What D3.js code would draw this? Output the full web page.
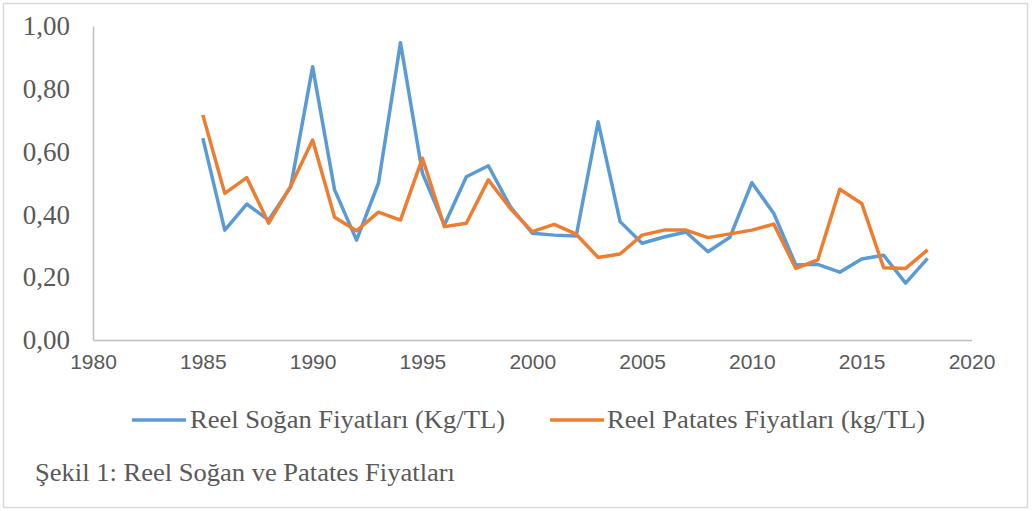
<!DOCTYPE html>
<html>
<head>
<meta charset="utf-8">
<script src="https://cdn.jsdelivr.net/npm/d3@7"></script>
<style>
  body { margin: 0; background: #fff; }
</style>
</head>
<body>
<svg id="chart" width="1033" height="511"></svg>
<script>
// yillar ve seriler
var years = [1985, 1986, 1987, 1988, 1989, 1990, 1991, 1992, 1993, 1994, 1995, 1996, 1997, 1998, 1999, 2000, 2001,
  2002, 2003, 2004, 2005, 2006, 2007, 2008, 2009, 2010, 2011, 2012, 2013, 2014, 2015, 2016, 2017, 2018];
var sogan = [0.643, 0.350, 0.433, 0.382, 0.487, 0.870, 0.478, 0.318, 0.500, 0.947, 0.531, 0.366, 0.520, 0.555, 0.425, 0.340, 0.334,
  0.331, 0.695, 0.377, 0.308, 0.328, 0.344, 0.281, 0.327, 0.501, 0.403, 0.239, 0.241, 0.216, 0.258, 0.270, 0.181, 0.260];
var patates = [0.717, 0.467, 0.517, 0.372, 0.490, 0.637, 0.391, 0.348, 0.407, 0.382, 0.579, 0.361, 0.372, 0.510, 0.419, 0.345, 0.368,
  0.337, 0.263, 0.274, 0.334, 0.350, 0.350, 0.326, 0.338, 0.350, 0.369, 0.228, 0.255, 0.480, 0.435, 0.230, 0.228, 0.287];
var xTicks = [1980, 1985, 1990, 1995, 2000, 2005, 2010, 2015, 2020];
var yTicks = [0, 0.2, 0.4, 0.6, 0.8, 1.0];
var seriesNames = ["Reel Soğan Fiyatları (Kg/TL)", "Reel Patates Fiyatları (kg/TL)"];
var colors = ["#5B9BD5", "#ED7D31"];
var caption = "Şekil 1: Reel Soğan ve Patates Fiyatları";

var svg = d3.select("#chart");

// dis cerceve
svg.append("rect")
  .attr("x", 3.5).attr("y", 3.5)
  .attr("width", 1024).attr("height", 504)
  .attr("fill", "#fff")
  .attr("stroke", "#D9D9D9")
  .attr("stroke-width", 1.5);

var x = d3.scaleLinear().domain([1980, 2020]).range([93, 971.5]);
var y = d3.scaleLinear().domain([0, 1]).range([340, 26]);

// eksenler
var xAxis = svg.append("g")
  .attr("transform", "translate(0,340)")
  .call(d3.axisBottom(x).tickValues(xTicks).tickFormat(d3.format("d")).tickSize(0).tickPadding(14));
xAxis.select(".domain").attr("stroke", "#BFBFBF").attr("stroke-width", 1.5);
xAxis.selectAll("text")
  .attr("font-family", "Liberation Sans, Arial, sans-serif")
  .attr("font-size", 21)
  .attr("fill", "#595959");

var yAxis = svg.append("g")
  .attr("transform", "translate(93,0)")
  .call(d3.axisLeft(y).tickValues(yTicks).tickFormat(function(d) { return d.toFixed(2).replace(".", ","); }).tickSize(0).tickPadding(23));
yAxis.select(".domain").attr("stroke", "#BFBFBF").attr("stroke-width", 1.5);
yAxis.selectAll("text")
  .attr("font-family", "Liberation Serif, Times New Roman, serif")
  .attr("font-size", 27)
  .attr("fill", "#595959");

// cizgiler
var line = d3.line()
  .x(function(d, i) { return x(years[i]); })
  .y(function(d) { return y(d); });

[sogan, patates].forEach(function(s, k) {
  svg.append("path")
    .datum(s)
    .attr("d", line)
    .attr("fill", "none")
    .attr("stroke", colors[k])
    .attr("stroke-width", 3.5)
    .attr("stroke-linejoin", "round");
});

// legend
var legendPos = [{lx: 132, tx: 190, w: 315}, {lx: 550, tx: 607, w: 318}];
var legend = svg.append("g");
seriesNames.forEach(function(name, k) {
  legend.append("line")
    .attr("x1", legendPos[k].lx).attr("x2", legendPos[k].lx + 54)
    .attr("y1", 420).attr("y2", 420)
    .attr("stroke", colors[k])
    .attr("stroke-width", 3.5);
  legend.append("text")
    .attr("x", legendPos[k].tx)
    .attr("y", 428)
    .attr("font-family", "Liberation Serif, Times New Roman, serif")
    .attr("font-size", 24.5)
    .attr("fill", "#595959")
    .attr("textLength", legendPos[k].w)
    .attr("lengthAdjust", "spacingAndGlyphs")
    .text(name);
});

svg.append("text")
  .attr("x", 35)
  .attr("y", 481)
  .attr("font-family", "Liberation Serif, Times New Roman, serif")
  .attr("font-size", 24.5)
  .attr("fill", "#595959")
  .attr("textLength", 420)
  .attr("lengthAdjust", "spacingAndGlyphs")
  .text(caption);
</script>
</body>
</html>
